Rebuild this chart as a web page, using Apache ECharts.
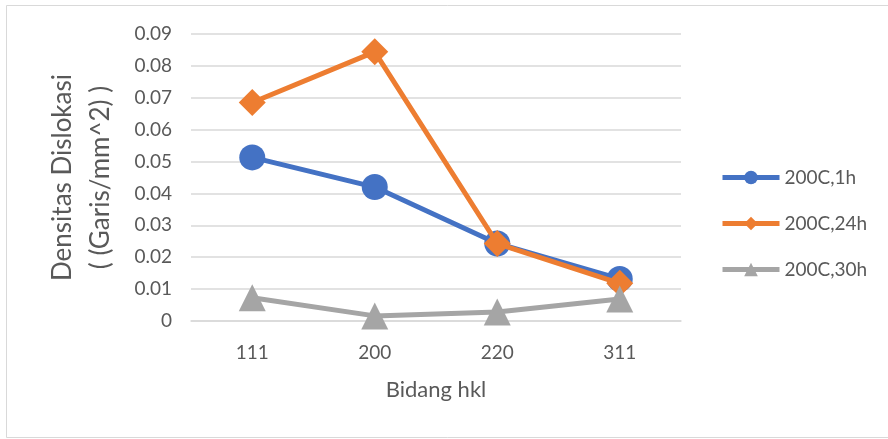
<!DOCTYPE html>
<html>
<head>
<meta charset="utf-8">
<script src="https://cdn.jsdelivr.net/npm/echarts@6/dist/echarts.min.js"></script>
<style>
  html, body { margin: 0; padding: 0; background: #ffffff; }
  #chart { width: 888px; height: 439px; }
</style>
</head>
<body>
<div id="chart"></div>
<script>
// Dislocation density per hkl plane for three annealing times
const categories = ['111', '200', '220', '311'];
const series1h = [0.0513, 0.0420, 0.0243, 0.0132];
const series24h = [0.0685, 0.0844, 0.0243, 0.0118];
const series30h = [0.0073, 0.0016, 0.0028, 0.0069];
const seriesNames = ['200C,1h', '200C,24h', '200C,30h'];
const yTicks = { min: 0, max: 0.09, interval: 0.01 };

const textColor = '#595959';
const fontFamily = 'Lato, "Open Sans", sans-serif';

const chart = echarts.init(document.getElementById('chart'), null, { renderer: 'canvas' });

function lineSeries(name, data, color, symbol, size, z) {
  return {
    name: name,
    type: 'line',
    data: data,
    symbol: symbol,
    symbolSize: size,
    z: z,
    lineStyle: { color: color, width: 5 },
    itemStyle: { color: color },
    emphasis: { disabled: true },
    animation: false
  };
}

chart.setOption({
  backgroundColor: '#ffffff',
  animation: false,
  graphic: [{
    type: 'rect',
    shape: { x: 6.5, y: 5.5, width: 900, height: 432 },
    style: { fill: 'none', stroke: '#d9d9d9', lineWidth: 1 },
    silent: true
  }],
  grid: { left: 191, right: 207, top: 34, bottom: 118 },
  legend: {
    orient: 'vertical',
    left: 720,
    top: 168,
    padding: 0,
    itemWidth: 57,
    itemHeight: 17,
    itemGap: 27,
    lineStyle: { width: 5 },
    textStyle: { color: textColor, fontSize: 19, fontFamily: fontFamily, padding: [0, 0, 0, 0] },
    data: seriesNames
  },
  xAxis: {
    type: 'category',
    data: categories,
    boundaryGap: true,
    axisLine: { show: true, lineStyle: { color: '#d9d9d9', width: 1.5 } },
    axisTick: { show: false },
    axisLabel: { color: textColor, fontSize: 19, fontFamily: fontFamily, margin: 22 },
    name: 'Bidang hkl',
    nameLocation: 'middle',
    nameGap: 58,
    nameTextStyle: { color: textColor, fontSize: 22, fontFamily: fontFamily }
  },
  yAxis: {
    type: 'value',
    min: yTicks.min,
    max: yTicks.max,
    interval: yTicks.interval,
    axisLine: { show: false },
    axisTick: { show: false },
    splitLine: { lineStyle: { color: '#d9d9d9', width: 1.5 } },
    axisLabel: {
      color: textColor, fontSize: 19, fontFamily: fontFamily, margin: 19,
      formatter: function (v) { return v === 0 ? '0' : v.toFixed(2); }
    },
    name: 'Densitas Dislokasi\n( (Garis/mm^2) )',
    nameLocation: 'middle',
    nameGap: 71,
    nameRotate: 90,
    nameTextStyle: { color: textColor, fontSize: 26, fontFamily: fontFamily, lineHeight: 38 }
  },
  series: [
    lineSeries(seriesNames[0], series1h, '#4472C4', 'circle', 26, 3),
    lineSeries(seriesNames[1], series24h, '#ED7D31', 'diamond', 27, 4),
    lineSeries(seriesNames[2], series30h, '#A5A5A5', 'triangle', 27, 5)
  ]
});
</script>
</body>
</html>
